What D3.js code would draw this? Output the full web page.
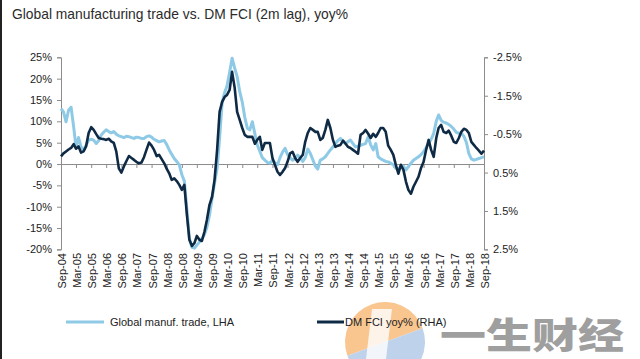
<!DOCTYPE html>
<html lang="en">
  <head>
    <meta charset="utf-8">
    <style>
      body { margin: 0; background: #fff; }
      svg { display: block; }
      .tick text { font-family: "Liberation Sans", Arial, sans-serif; font-size: 11px; fill: #222; }
      .axis path, .axis line { stroke: #8c8c8c; }
    </style>
  </head>
  <body>
  </body>
  <script src="https://cdnjs.cloudflare.com/ajax/libs/d3/7.8.5/d3.min.js"></script>

  <script>
  var width = 640;
  var height = 359;

  // monthly, Sep-04 .. Sep-18
  var startMonth = "2004-09";
  // Global manufacturing trade, yoy% (left axis)
  var tradeValues = [
    13.0, 12.2, 9.9, 12.6, 13.3, 8.7, 4.0, 6.2, 4.0, 3.3, 4.4, 5.6,
    5.8, 5.6, 4.8, 5.5, 6.8, 7.5, 8.0, 7.6, 7.3, 7.6, 7.0, 6.6,
    6.4, 6.2, 6.5, 6.4, 6.2, 6.0, 6.3, 6.2, 6.0, 6.0, 6.4, 6.6,
    6.3, 5.8, 5.5, 5.2, 5.4, 5.5, 4.6, 3.3, 2.3, 1.3, 0.6, -0.2,
    -2.5, -4.0, -10.8, -17.5, -19.5, -19.7, -19.0, -18.3, -17.5, -16.5, -14.8, -12.0,
    -8.0, -4.5, -1.0, 6.0, 14.5, 16.8, 18.3, 21.5, 24.8, 22.5, 20.5, 17.0,
    14.5, 11.0, 8.4, 8.0, 9.9, 7.0, 4.5, 3.0, 1.5, 0.9, 0.4, 0.2,
    0.9, 0.3, -0.2, 1.5, 2.8, 3.7, 2.2, 1.5, 0.9, 1.3, 2.1, 1.5,
    0.6, 1.5, 3.5, 2.5, 1.0, -0.5, -1.2, 0.9, 1.2, 1.7, 2.5, 3.3,
    4.0, 4.8, 5.5, 6.0, 5.3, 4.8, 5.2, 5.6, 4.8, 4.0, 4.2, 4.4,
    4.6, 4.8, 6.4, 4.5, 3.3, 4.8, 1.7, 1.2, 0.9, 0.6, 0.5, 0.2,
    -0.2, -1.0, -1.4, -0.4, -0.5, -1.4, -0.6, 0.2, 0.9, 1.3, 1.7, 2.2,
    2.9, 3.8, 4.8, 5.8, 7.2, 10.0, 11.5, 10.2, 9.8, 9.6, 9.3, 8.8,
    8.2, 7.4, 7.2, 7.2, 6.5, 5.0, 2.5, 1.2, 0.9, 1.1, 1.3, 1.5,
    1.7
  ];
  // DM FCI yoy%, 2m lag (right axis, inverted)
  var fciValues = [
    0.08, 0.0, -0.05, -0.1, -0.14, -0.24, -0.12, -0.18, -0.02, -0.05, -0.18, -0.53,
    -0.68, -0.61, -0.5, -0.40, -0.38, -0.37, -0.35, -0.38, -0.31, -0.27, -0.05, 0.39,
    0.50, 0.34, 0.2, 0.07, 0.12, 0.17, 0.22, 0.26, 0.24, 0.1, -0.09, -0.28,
    -0.2, -0.09, 0.07, 0.04, 0.15, 0.26, 0.4, 0.52, 0.69, 0.65, 0.72, 0.82,
    0.95, 0.82, 1.60, 2.25, 2.41, 2.33, 2.15, 2.25, 2.28, 2.04, 1.73, 1.34,
    1.13, 0.69, -0.09, -1.08, -1.34, -1.47, -1.52, -1.65, -2.12, -1.71, -1.08, -0.87,
    -0.66, -0.48, -0.43, -0.43, -0.43, -0.25, -0.35, -0.43, -0.09, -0.27, -0.27, -0.27,
    0.12, 0.30, 0.48, 0.56, 0.48, 0.38, 0.22, 0.0, -0.04, 0.12, 0.22, 0.12,
    0.04, -0.30, -0.53, -0.66, -0.61, -0.56, -0.56, -0.35, -0.40, -0.61, -0.87, -0.66,
    -0.35, -0.17, -0.20, -0.22, -0.33, -0.25, -0.17, -0.14, -0.09, -0.04, 0.01, -0.48,
    -0.53, -0.61, -0.51, -0.40, -0.51, -0.43, -0.53, -0.66, -0.66, -0.56, -0.20, -0.09,
    0.04, 0.30, 0.53, 0.30, 0.43, 0.74, 0.95, 1.05, 0.87, 0.74, 0.61, 0.38,
    0.22, -0.09, -0.35, -0.09, 0.09, -0.40, -0.66, -0.74, -0.56, -0.53, -0.59, -0.46,
    -0.30, -0.27, -0.40, -0.56, -0.64, -0.61, -0.53, -0.30, -0.22, -0.14, -0.07, 0.01,
    -0.07
  ];
  var leftTicks = [-20, -15, -10, -5, 0, 5, 10, 15, 20, 25];
  var rightTicks = [-2.5, -1.5, -0.5, 0.5, 1.5, 2.5];
  var titleText = "Global manufacturing trade vs. DM FCI (2m lag), yoy%";
  var seriesNames = ["Global manuf. trade, LHA", "DM FCI yoy% (RHA)"];
  var watermark = "一生财经";

  var parseMonth = d3.timeParse("%Y-%m");
  var start = parseMonth(startMonth);
  var months = tradeValues.map(function(v, i) { return d3.timeMonth.offset(start, i); });

  var svg = d3.select("body")
    .append("svg")
    .attr('width', width)
    .attr('height', height);

  var x = d3.scaleTime()
    .domain([months[0], months[months.length - 1]])
    .range([61, 484]);

  var yLeft = d3.scaleLinear().domain([-20, 25]).range([249.4, 57.3]);
  // right axis is inverted: -2.5% on top
  var yRight = d3.scaleLinear().domain([-2.5, 2.5]).range([57.3, 249.4]);

  // title
  svg.append("text")
    .attr("x", 12)
    .attr("y", 19)
    .attr("textLength", 336)
    .attr("lengthAdjust", "spacingAndGlyphs")
    .style("font-family", "'Liberation Sans Narrow', 'Arial Narrow', 'Liberation Sans', sans-serif")
    .style("font-size", "15px")
    .style("fill", "#2b2b2b")
    .text(titleText);

  // left axis
  svg.append("g")
    .attr("class", "axis")
    .attr("transform", "translate(61,0)")
    .call(d3.axisLeft(yLeft).tickValues(leftTicks).tickSize(4).tickSizeOuter(4).tickPadding(5)
      .tickFormat(function(d) { return d + "%"; }));

  // right axis
  svg.append("g")
    .attr("class", "axis")
    .attr("transform", "translate(484,0)")
    .call(d3.axisRight(yRight).tickValues(rightTicks).tickSize(4).tickSizeOuter(4).tickPadding(5)
      .tickFormat(function(d) { return d.toFixed(1) + "%"; }));

  // zero line with half-year ticks
  var halfYears = months.filter(function(d, i) { return i % 6 === 0; });
  svg.append("g")
    .attr("class", "axis")
    .attr("transform", "translate(0," + yLeft(0) + ")")
    .call(d3.axisBottom(x).tickValues(halfYears).tickSize(4).tickSizeOuter(0).tickFormat(""));

  // rotated date labels under the plot
  svg.append("g")
    .selectAll("text")
    .data(halfYears)
    .enter().append("text")
    .attr("transform", function(d) { return "translate(" + (x(d) + 5) + ",253) rotate(-90)"; })
    .attr("text-anchor", "end")
    .style("font-family", "'Liberation Sans', Arial, sans-serif")
    .style("font-size", "11px")
    .style("fill", "#222")
    .text(d3.timeFormat("%b-%y"));

  var tradeLine = d3.line()
    .x(function(d, i) { return x(months[i]); })
    .y(function(d) { return yLeft(d); });

  var fciLine = d3.line()
    .x(function(d, i) { return x(months[i]); })
    .y(function(d) { return yRight(d); });

  svg.append("path")
    .datum(tradeValues)
    .attr("fill", "none")
    .attr("stroke", "#8ecae6")
    .attr("stroke-width", 3)
    .attr("stroke-linejoin", "round")
    .attr("d", tradeLine);

  svg.append("path")
    .datum(fciValues)
    .attr("fill", "none")
    .attr("stroke", "#0f2a44")
    .attr("stroke-width", 2.6)
    .attr("stroke-linejoin", "round")
    .attr("d", fciLine);

  // watermark logo (behind legend text)
  var logo = svg.append("g").attr("opacity", 0.75);
  logo.append("path")
    .attr("d", d3.arc()({ innerRadius: 0, outerRadius: 40, startAngle: -Math.PI / 2, endAngle: Math.PI / 2 }))
    .attr("transform", "translate(385,342) rotate(-20)")
    .attr("fill", "#f7b36b");
  logo.append("path")
    .attr("d", d3.arc()({ innerRadius: 0, outerRadius: 40, startAngle: Math.PI / 2, endAngle: Math.PI * 1.5 }))
    .attr("transform", "translate(385,342) rotate(-20)")
    .attr("fill", "#a9c4e6");
  logo.append("path")
    .attr("d", "M372,309 L392,309 L386,359 L366,359 Z")
    .attr("fill", "#ffffff")
    .attr("opacity", 0.8);

  // legend
  var legend = svg.append("g")
    .style("font-family", "'Liberation Sans', Arial, sans-serif")
    .style("font-size", "11px")
    .style("fill", "#222");

  legend.append("line")
    .attr("x1", 66).attr("x2", 104).attr("y1", 322).attr("y2", 322)
    .attr("stroke", "#8ecae6").attr("stroke-width", 3);
  legend.append("text").attr("x", 110).attr("y", 326).text(seriesNames[0]);

  legend.append("line")
    .attr("x1", 317).attr("x2", 344).attr("y1", 322).attr("y2", 322)
    .attr("stroke", "#0f2a44").attr("stroke-width", 3);
  legend.append("text").attr("x", 345).attr("y", 326).text(seriesNames[1]);

  // watermark text
  svg.append("text")
    .attr("x", 440)
    .attr("y", 349)
    .attr("textLength", 184)
    .attr("lengthAdjust", "spacingAndGlyphs")
    .style("font-family", "'Noto Sans CJK SC', sans-serif")
    .style("font-weight", "900")
    .style("font-size", "36px")
    .style("fill", "#8f8f8f")
    .attr("opacity", 0.85)
    .text(watermark);

  // thin dark frame edge on the left
  svg.append("rect")
    .attr("x", 0).attr("y", 0).attr("width", 2).attr("height", height)
    .attr("fill", "#222");

  </script>
</html>
